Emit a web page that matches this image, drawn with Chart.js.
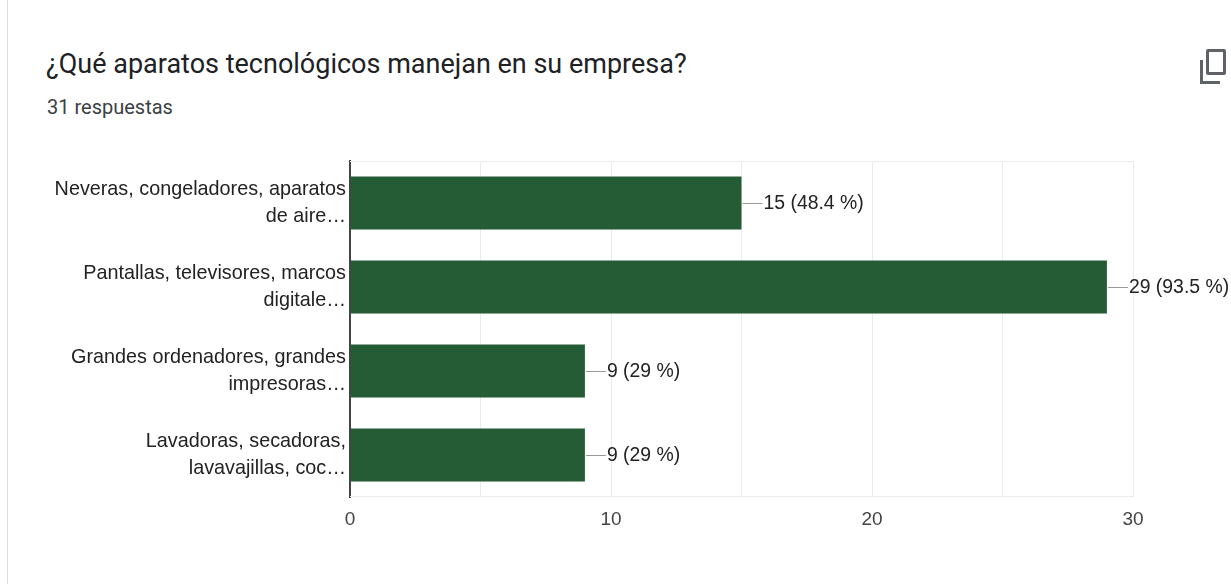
<!DOCTYPE html>
<html>
<head>
<meta charset="utf-8">
<script src="https://cdn.jsdelivr.net/npm/chart.js@4.4.1/dist/chart.umd.min.js"></script>
<style>
  html, body { margin: 0; padding: 0; background: #fff; }
  body { width: 1231px; height: 584px; position: relative; overflow: hidden; }
  .borde { position: absolute; left: 7px; top: 0; width: 1px; height: 584px; background: #dadce0; }
  #titulo { position: absolute; left: 46px; top: 48px; font: 400 27px Roboto, sans-serif; color: #202124; white-space: nowrap; }
  #respuestas { position: absolute; left: 47px; top: 95px; font: 400 20px Roboto, sans-serif; color: #3c4043; white-space: nowrap; }
  .copiar { position: absolute; left: 1206px; top: 49px; width: 20px; height: 26px; border: 3px solid #5f6368; border-radius: 2px; box-sizing: border-box; }
  .copiar2 { position: absolute; left: 1200px; top: 60px; width: 20px; height: 24px; border-left: 3px solid #5f6368; border-bottom: 3px solid #5f6368; box-sizing: border-box; }
  #lienzo { position: absolute; left: 0; top: 0; }
</style>
</head>
<body>
<div class="borde"></div>
<div id="titulo">¿Qué aparatos tecnológicos manejan en su empresa?</div>
<div id="respuestas">31 respuestas</div>
<div class="copiar2"></div>
<div class="copiar"></div>
<canvas id="lienzo" width="1231" height="584"></canvas>
<script>
// Datos del gráfico
const categorias = [
  ['Neveras, congeladores, aparatos', 'de aire…'],
  ['Pantallas, televisores, marcos', 'digitale…'],
  ['Grandes ordenadores, grandes', 'impresoras…'],
  ['Lavadoras, secadoras,', 'lavavajillas, coc…']
];
const valores = [15, 29, 9, 9];
const etiquetas = ['15 (48.4 %)', '29 (93.5 %)', '9 (29 %)', '9 (29 %)'];
const marcasX = [0, 10, 20, 30];

const fuente = "'Liberation Sans', Arial, sans-serif";

// Etiquetas con la rayita al final de cada barra
const etiquetasBarras = {
  id: 'etiquetasBarras',
  afterDatasetsDraw(chart) {
    const ctx = chart.ctx;
    const meta = chart.getDatasetMeta(0);
    const escalaX = chart.scales.x;
    ctx.save();
    ctx.font = '19.4px ' + fuente;
    ctx.textBaseline = 'middle';
    meta.data.forEach((barra, i) => {
      const x = escalaX.getPixelForValue(valores[i]);
      const y = barra.y;
      ctx.strokeStyle = '#999999';
      ctx.lineWidth = 1;
      ctx.beginPath();
      ctx.moveTo(x + 1, Math.round(y) + 0.5);
      ctx.lineTo(x + 21, Math.round(y) + 0.5);
      ctx.stroke();
      ctx.fillStyle = '#222222';
      ctx.fillText(etiquetas[i], x + 22, y + 1);
    });
    ctx.restore();
  }
};

// Lineas de arriba y abajo del area
const bordeArea = {
  id: 'bordeArea',
  beforeDatasetsDraw(chart) {
    const a = chart.chartArea;
    const ctx = chart.ctx;
    ctx.save();
    ctx.strokeStyle = '#ebebeb';
    ctx.lineWidth = 1;
    ctx.beginPath();
    ctx.moveTo(a.left, a.top + 0.5);
    ctx.lineTo(a.right, a.top + 0.5);
    ctx.moveTo(a.left, a.bottom - 0.5);
    ctx.lineTo(a.right, a.bottom - 0.5);
    ctx.stroke();
    ctx.restore();
  }
};

new Chart(document.getElementById('lienzo').getContext('2d'), {
  type: 'bar',
  data: {
    labels: categorias,
    datasets: [{
      data: valores,
      backgroundColor: '#255c36',
      borderWidth: 0,
      categoryPercentage: 1,
      barPercentage: 0.63
    }]
  },
  options: {
    indexAxis: 'y',
    responsive: false,
    animation: false,
    layout: { padding: { left: 0, right: 98, top: 161, bottom: 47 } },
    plugins: { legend: { display: false }, tooltip: { enabled: false } },
    scales: {
      x: {
        min: 0,
        max: 30,
        afterFit(s) { s.height = 40; },
        grid: {
          color: (c) => c.tick && c.tick.value === 0 ? 'rgba(0,0,0,0)' : '#ebebeb',
          drawTicks: false
        },
        border: { display: false },
        ticks: {
          stepSize: 5,
          padding: 11,
          color: '#444444',
          font: { family: fuente, size: 19 },
          callback: (v) => marcasX.includes(v) ? v : ''
        }
      },
      y: {
        afterFit(s) { s.width = 350; },
        grid: { display: false, drawTicks: false },
        border: { display: true, color: '#444444', width: 2 },
        ticks: {
          padding: 4,
          color: '#222222',
          font: { family: fuente, size: 19.8, lineHeight: 1.33 }
        }
      }
    }
  },
  plugins: [bordeArea, etiquetasBarras]
});
</script>
</body>
</html>
